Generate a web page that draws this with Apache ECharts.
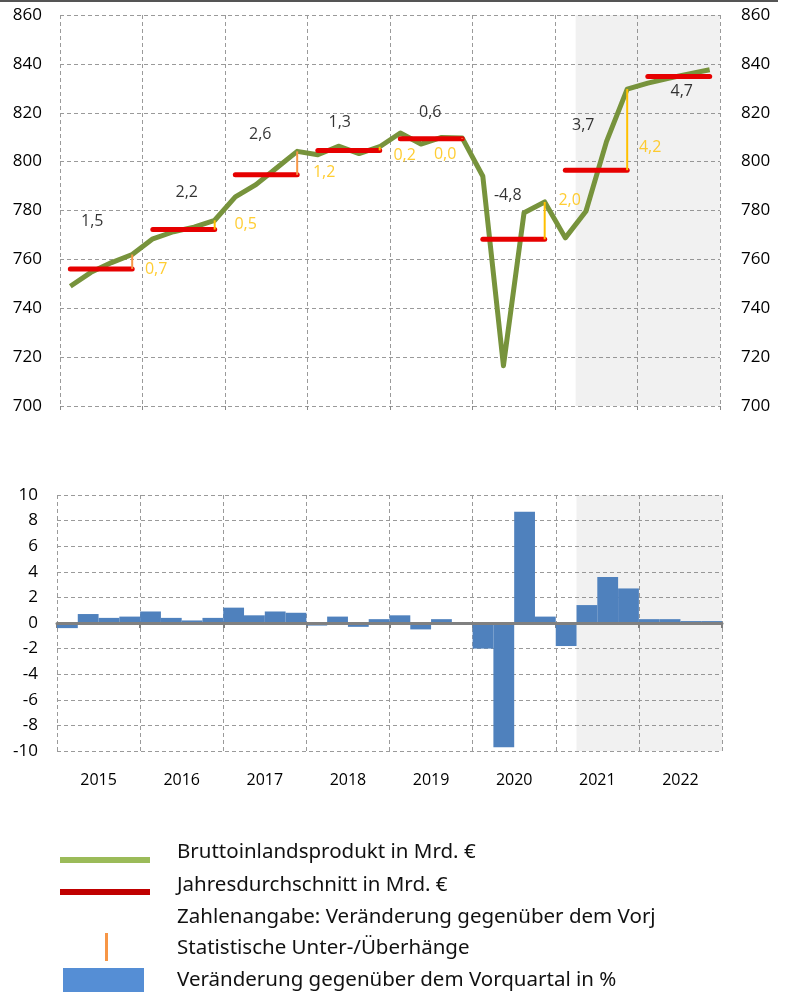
<!DOCTYPE html>
<html>
<head>
<meta charset="utf-8">
<script src="https://cdn.jsdelivr.net/npm/echarts@6/dist/echarts.min.js"></script>
<style>
html,body{margin:0;padding:0;background:#fff;}
#c{width:796px;height:992px;}
</style>
</head>
<body>
<div id="c"></div>
<script>
// ---- data ----
const years = ['2015','2016','2017','2018','2019','2020','2021','2022'];
// quarterly GDP, bn EUR (2015Q1 ... 2022Q4)
const gdp = [
  749.0, 754.7, 758.7, 762.0,
  768.4, 771.3, 773.2, 776.0,
  785.6, 790.6, 797.4, 804.2,
  802.8, 806.3, 803.3, 806.1,
  811.7, 807.2, 809.9, 809.7,
  794.0, 716.5, 779.1, 783.5,
  768.8, 779.7, 808.3, 829.7,
  832.1, 834.1, 835.9, 837.6
];
// change vs previous quarter, %
const qoq = [
  -0.4, 0.7, 0.4, 0.5,
  0.9, 0.4, 0.2, 0.4,
  1.2, 0.6, 0.9, 0.8,
  -0.2, 0.5, -0.3, 0.3,
  0.6, -0.5, 0.3, 0.0,
  -2.0, -9.7, 8.7, 0.5,
  -1.8, 1.4, 3.6, 2.7,
  0.3, 0.3, 0.15, 0.15
];
// annual averages, bn EUR
const annualAvg = [756.1, 772.2, 794.6, 804.6, 809.4, 768.2, 796.5, 834.8];
// change vs previous year (labels)
const annualGrowth = ['1,5','2,2','2,6','1,3','0,6','-4,8','3,7','4,7'];
// statistical carry-over (labels), years 2015..2021
const overhangText = ['0,7','0,5','1,2','0,2','0,0','2,0','4,2'];
const forecastStart = 25; // quarter index where shading begins (2021 Q2)
const legendItems = [
  'Bruttoinlandsprodukt in Mrd. €',
  'Jahresdurchschnitt in Mrd. €',
  'Zahlenangabe: Veränderung gegenüber dem Vorj',
  'Statistische Unter-/Überhänge',
  'Veränderung gegenüber dem Vorquartal in %'
];

// ---- layout / style (not data) ----
const growthLabelOffset = [[-9,-47],[3,-37],[-6,-40],[-9,-28],[-1,-26],[-6,-44],[-13,-45],[3,15]];
const overhangLabelOffset = [[24,1],[31,-5],[27,-2],[25,5],[-17,16],[25,-39],[23,-23]];
const overhangColor = ['#F79646','#FFC000','#F79646','#FFC000','#F79646','#FFC000','#FFC000'];
const legendRowY = [852, 885, 917, 948, 980];

const FONT = 'Open Sans';
const LEGEND_FONT = '20.5px "Noto Sans", sans-serif';
const gridLine = {show:true, lineStyle:{type:[4,3], color:'#9a9a9a', width:1}};
const shade = {silent:true, itemStyle:{color:'rgba(120,120,120,0.1)'}, data:[[{xAxis:forecastStart},{xAxis:32}]]};

const series = [];
// GDP line
series.push({
  type:'line', xAxisIndex:0, yAxisIndex:0, z:3,
  data: gdp.map((v,i)=>[i+0.5, v]),
  symbol:'none', lineStyle:{width:5, color:'#77933C', join:'round'},
  markArea: shade
});
// annual averages
annualAvg.forEach((a,k)=>{
  series.push({
    type:'line', xAxisIndex:0, yAxisIndex:0, z:4, symbol:'none',
    data:[[4*k+0.5, a],[4*k+3.5, a]],
    lineStyle:{width:5, color:'#E60000', cap:'round'}
  });
});
// overhang markers
overhangText.forEach((t,k)=>{
  series.push({
    type:'line', xAxisIndex:0, yAxisIndex:0, z:5, symbol:'none',
    data:[[4*k+3.5, annualAvg[k]],[4*k+3.5, gdp[4*k+3]]],
    lineStyle:{width:2, color:overhangColor[k]}
  });
});
// growth labels
series.push({
  type:'scatter', xAxisIndex:0, yAxisIndex:0, z:6, symbolSize:0, silent:true,
  data: annualAvg.map((a,k)=>({
    value:[4*k+2, a],
    label:{show:true, position:'inside', offset:growthLabelOffset[k], formatter:annualGrowth[k],
      color:'#000', textBorderWidth:0, fontSize:16, fontFamily:FONT}
  }))
});
// overhang labels
series.push({
  type:'scatter', xAxisIndex:0, yAxisIndex:0, z:6, symbolSize:0, silent:true,
  data: overhangText.map((t,k)=>({
    value:[4*k+3.5, annualAvg[k]],
    label:{show:true, position:'inside', offset:overhangLabelOffset[k], formatter:t,
      color:'#FFC000', textBorderWidth:0, fontSize:16, fontFamily:FONT}
  }))
});
// quarterly change bars
series.push({
  type:'bar', xAxisIndex:1, yAxisIndex:2, z:3,
  data: qoq.map((v,i)=>[i+0.5, v]),
  barWidth:20.8, itemStyle:{color:'#4F81BD'},
  markArea: shade,
  markLine:{silent:true, symbol:'none', label:{show:false},
    lineStyle:{color:'#808080', width:3, type:'solid'}, data:[{yAxis:0}]}
});

const legendText = legendItems.map((t,i)=>({
  type:'text', x:177, y:legendRowY[i],
  style:{text:t, fill:'#111', font:LEGEND_FONT, verticalAlign:'middle'}
}));

const option = {
  animation:false,
  backgroundColor:'#fff',
  textStyle:{fontFamily:FONT},
  grid:[
    {left:60, right:76, top:15, height:391},
    {left:57, right:74, top:495, height:256}
  ],
  xAxis:[
    {gridIndex:0, type:'value', min:0, max:32, interval:4,
     axisLabel:{show:false}, axisLine:{show:false},
     axisTick:{show:true, length:4, lineStyle:{color:'#888'}},
     splitLine:gridLine},
    {gridIndex:1, type:'value', min:0, max:32, interval:4, position:'bottom',
     axisLabel:{show:false},
     axisLine:{show:true, onZero:true, lineStyle:{color:'#808080', width:3}},
     axisTick:{show:true, length:5, lineStyle:{color:'#808080', width:2}},
     splitLine:gridLine},
    {gridIndex:1, type:'category', data:years, position:'bottom',
     axisLine:{show:false, onZero:false}, axisTick:{show:false}, splitLine:{show:false},
     axisLabel:{margin:21, fontSize:16, color:'#000', fontFamily:FONT}}
  ],
  yAxis:[
    {gridIndex:0, type:'value', min:700, max:860, interval:20, position:'left',
     axisLine:{show:false}, axisTick:{show:false},
     axisLabel:{margin:18, fontSize:17, color:'#000', fontFamily:FONT},
     splitLine:gridLine},
    {gridIndex:0, type:'value', min:700, max:860, interval:20, position:'right',
     axisLine:{show:false}, axisTick:{show:false},
     axisLabel:{margin:21, fontSize:17, color:'#000', fontFamily:FONT},
     splitLine:{show:false}},
    {gridIndex:1, type:'value', min:-10, max:10, interval:2, position:'left',
     axisLine:{show:false}, axisTick:{show:false},
     axisLabel:{margin:19, fontSize:17, color:'#000', fontFamily:FONT},
     splitLine:gridLine}
  ],
  series: series,
  graphic:[
    {type:'rect', shape:{x:0, y:0, width:778, height:2}, style:{fill:'#555'}, silent:true},
    {type:'rect', shape:{x:60, y:857, width:90, height:6}, style:{fill:'#9BBB59'}},
    {type:'rect', shape:{x:60, y:889, width:90, height:6}, style:{fill:'#C00000'}},
    {type:'rect', shape:{x:105, y:933, width:3, height:28}, style:{fill:'#F79646'}},
    {type:'rect', shape:{x:63, y:968, width:81, height:24}, style:{fill:'#558ED5'}}
  ].concat(legendText)
};
const chart = echarts.init(document.getElementById('c'), null, {renderer:'canvas'});
chart.setOption(option);
</script>
</body>
</html>
